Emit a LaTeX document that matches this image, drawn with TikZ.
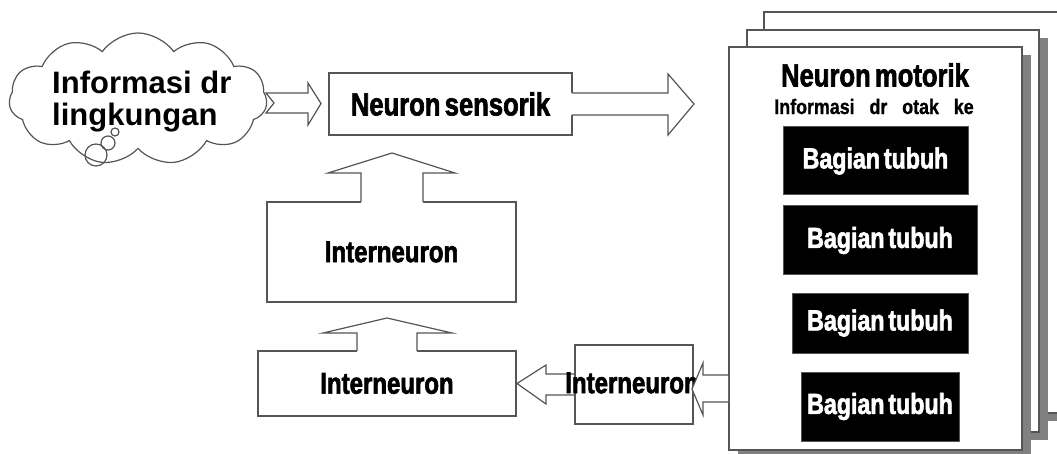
\documentclass[tikz,border=0pt]{standalone}
\usepackage{fontspec}
\setmainfont{Liberation Sans}
\newfontfamily\cond{Liberation Sans}[FakeStretch=0.8,FakeBold=2,WordSpace=0.6]
\newfontfamily\condsp{Liberation Sans}[FakeStretch=0.85,FakeBold=1,WordSpace=3]
\usetikzlibrary{shapes.symbols,calc,shadows}
\definecolor{ln}{HTML}{555555}
\definecolor{shd}{HTML}{808080}
\tikzset{
  ol/.style={draw=ln, line width=1.2pt},
  box/.style={ol, fill=white, inner sep=0pt, font=\cond\bfseries\fontsize{30}{32}\selectfont},
  page/.style={ol, fill=white, inner sep=0pt, drop shadow={shadow xshift=9pt, shadow yshift=-8pt, fill=shd, opacity=1}},
  blk/.style={fill=black, draw=ln, line width=1pt, inner sep=0pt, text=white, font=\cond\bfseries\fontsize{29}{31}\selectfont},
  arrfill/.style={fill=white},
  arrline/.style={ol, line join=miter}
}
\begin{document}
\begin{tikzpicture}[x=1pt,y=-1pt]
\useasboundingbox (0,0) rectangle (1057,454);

% page stack
\node[page, minimum width=298pt, minimum height=401pt] (page3) at (913,212.5) {};
\node[page, minimum width=292pt, minimum height=402pt] (page2) at (893,231) {};
\node[page, minimum width=293pt, minimum height=403pt] (motor) at (875.5,248.5) {};
\node[font=\cond\bfseries\fontsize{32}{34}\selectfont, inner sep=0pt] (mtitle) at (875,75) {Neuron motorik};
\node[font=\condsp\bfseries\fontsize{21}{23}\selectfont, inner sep=0pt] (msub) at (874,106.5) {Informasi dr otak ke};
\node[blk, minimum width=185pt, minimum height=68pt] (b1) at (875.5,161) {Bagian tubuh};
\node[blk, minimum width=194pt, minimum height=69pt] (b2) at (880,240.5) {Bagian tubuh};
\node[blk, minimum width=176pt, minimum height=60pt] (b3) at (880,323) {Bagian tubuh};
\node[blk, minimum width=158pt, minimum height=69pt] (b4) at (880,406.5) {Bagian tubuh};

% cloud
\node[cloud, ol, fill=white, cloud puffs=11, cloud puff arc=110, cloud ignores aspect,
      minimum width=258pt, minimum height=132pt, inner sep=0pt] (cloud) at (138,99) {};
\node[font=\bfseries\fontsize{31}{32}\selectfont, align=left, anchor=north west, inner sep=0pt] (info) at (52,71) {Informasi dr\\lingkungan};
\draw[ol] (115,132) circle[radius=4pt];
\draw[ol] (108,143) circle[radius=7pt];
\draw[ol] (96,155) circle[radius=11pt];

% boxes
\node[box, minimum width=243pt, minimum height=62pt, font=\cond\bfseries\fontsize{32}{34}\selectfont] (sens) at (450.5,104) {Neuron sensorik};
\node[box, minimum width=249pt, minimum height=100pt] (int1) at (391.5,252) {Interneuron};
\node[box, minimum width=258pt, minimum height=65pt] (int2) at (387,383.5) {Interneuron};

% arrow cloud -> sens
\filldraw[arrline, arrfill] (266,93) -- (308,93) -- (308,83) -- (321,103.5) -- (308,125) -- (308,113) -- (266,113) -- (274,103) -- cycle;

% arrow sens -> motor
\fill[arrfill] (571,93) -- (668,93) -- (668,74) -- (694,104) -- (668,135) -- (668,115) -- (571,115) -- cycle;
\draw[arrline] (572,93) -- (668,93) -- (668,74) -- (694,104) -- (668,135) -- (668,115) -- (572,115);

% arrow int1 -> sens
\fill[arrfill] (361,203) -- (361,173) -- (328,173) -- (392,153) -- (455,173) -- (423,173) -- (423,203) -- cycle;
\draw[arrline] (361,202) -- (361,173) -- (328,173) -- (392,153) -- (455,173) -- (423,173) -- (423,202);

% arrow int2 -> int1
\fill[arrfill] (357,352) -- (357,333) -- (323,333) -- (387,318) -- (452,333) -- (417,333) -- (417,352) -- cycle;
\draw[arrline] (357,351) -- (357,333) -- (323,333) -- (387,318) -- (452,333) -- (417,333) -- (417,351);

% arrow int3 -> int2
\filldraw[arrline, arrfill] (575,374) -- (546,374) -- (546,365) -- (517,383.5) -- (546,404) -- (546,395) -- (575,395);

% small interneuron box
\node[ol, fill=white, minimum width=118pt, minimum height=79pt, inner sep=0pt] (int3) at (634,384.5) {};
\node[font=\cond\bfseries\fontsize{30}{32}\selectfont, inner sep=0pt] (int3t) at (632,383) {Interneuron};

% arrow motor -> int3
\fill[arrfill] (728,375) -- (703,375) -- (703,363) -- (692,389) -- (703,415) -- (703,402) -- (728,402) -- cycle;
\draw[arrline] (729,375) -- (703,375) -- (703,363) -- (692,389) -- (703,415) -- (703,402) -- (729,402);
\end{tikzpicture}
\end{document}
